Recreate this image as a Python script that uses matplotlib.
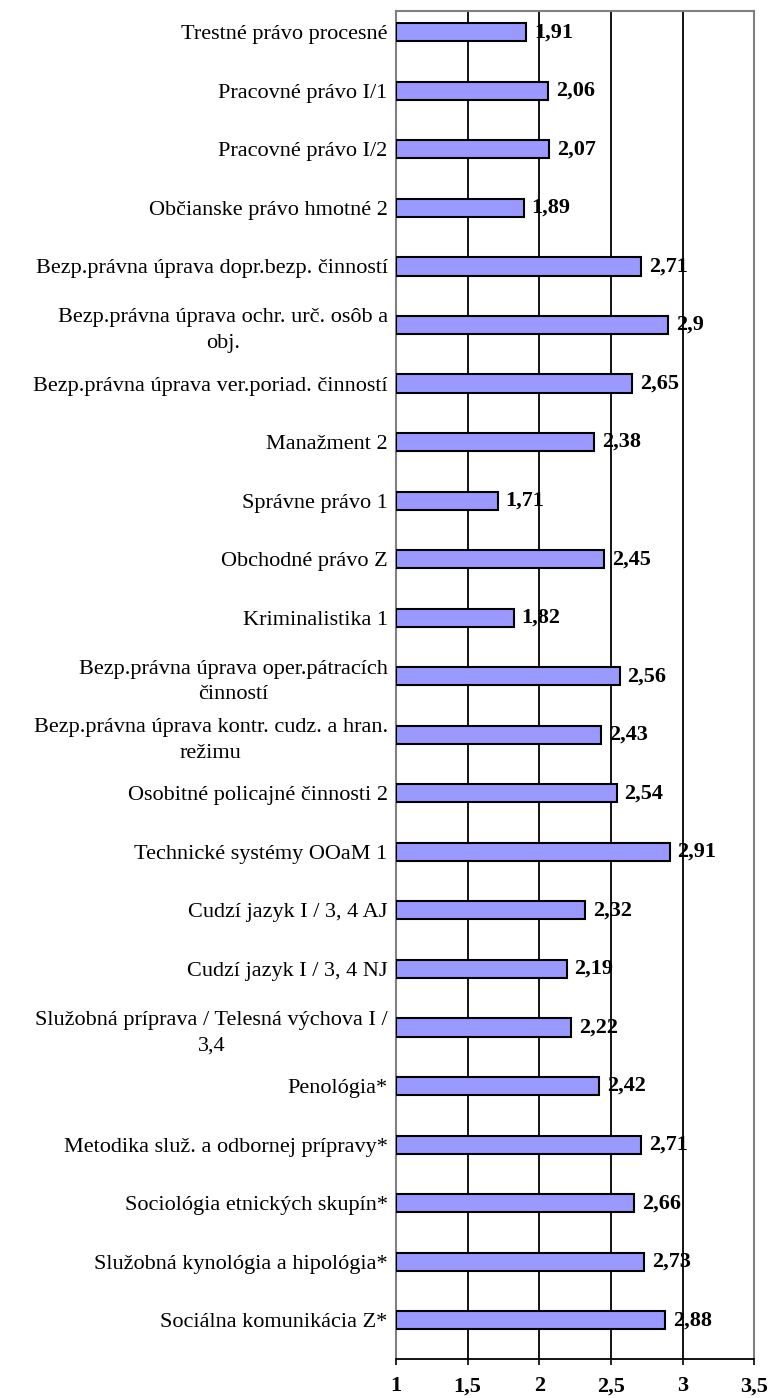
import matplotlib.pyplot as plt

subjects = [
    "Trestné právo procesné",
    "Pracovné právo I/1",
    "Pracovné právo I/2",
    "Občianske právo hmotné 2",
    "Bezp.právna úprava dopr.bezp. činností",
    "Bezp.právna úprava ochr. urč. osôb a\nobj.",
    "Bezp.právna úprava ver.poriad. činností",
    "Manažment 2",
    "Správne právo 1",
    "Obchodné právo Z",
    "Kriminalistika 1",
    "Bezp.právna úprava oper.pátracích\nčinností",
    "Bezp.právna úprava kontr. cudz. a hran.\nrežimu",
    "Osobitné policajné činnosti 2",
    "Technické systémy OOaM 1",
    "Cudzí jazyk I / 3, 4 AJ",
    "Cudzí jazyk I / 3, 4 NJ",
    "Služobná príprava / Telesná výchova I /\n3,4",
    "Penológia*",
    "Metodika služ. a odbornej prípravy*",
    "Sociológia etnických skupín*",
    "Služobná kynológia a hipológia*",
    "Sociálna komunikácia Z*",
]
scores = [1.91, 2.06, 2.07, 1.89, 2.71, 2.9, 2.65, 2.38, 1.71, 2.45, 1.82,
          2.56, 2.43, 2.54, 2.91, 2.32, 2.19, 2.22, 2.42, 2.71, 2.66, 2.73, 2.88]
x_ticks = [1, 1.5, 2, 2.5, 3, 3.5]
x_tick_labels = ["1", "1,5", "2", "2,5", "3", "3,5"]

plt.rcParams['font.family'] = ['Liberation Serif', 'DejaVu Serif']

fig = plt.figure(figsize=(7.72, 13.98), dpi=100)
ax = fig.add_axes([0.513, 0.028, 0.464, 0.964])

pos = list(range(len(subjects)))
ax.barh(pos, [s - 1 for s in scores], left=1, height=0.31,
        color='#9999FF', edgecolor='black', linewidth=1.5, zorder=3)

for y, s in zip(pos, scores):
    ax.text(s + 0.055, y, f"{s:g}".replace('.', ','), va='center', ha='left',
            fontsize=16, fontweight='bold', zorder=4)

ax.set_xlim(1, 3.5)
ax.set_ylim(22.66, -0.36)
ax.set_xticks(x_ticks)
ax.set_xticklabels(x_tick_labels, fontsize=16, fontweight='bold')
ax.set_yticks(pos)
ax.set_yticklabels(subjects, fontsize=16, multialignment='center', linespacing=1.45)
ax.tick_params(axis='y', length=0, pad=6)
ax.tick_params(axis='x', direction='out', length=4.5, width=1.2, pad=8)

for v in [1.5, 2, 2.5, 3]:
    ax.axvline(v, color='black', linewidth=1.3, zorder=1)

for side in ['top', 'right', 'left']:
    ax.spines[side].set_color('#808080')
    ax.spines[side].set_linewidth(1.5)
ax.spines['bottom'].set_color('black')
ax.spines['bottom'].set_linewidth(1.3)

fig.savefig('out.png', dpi=100)
